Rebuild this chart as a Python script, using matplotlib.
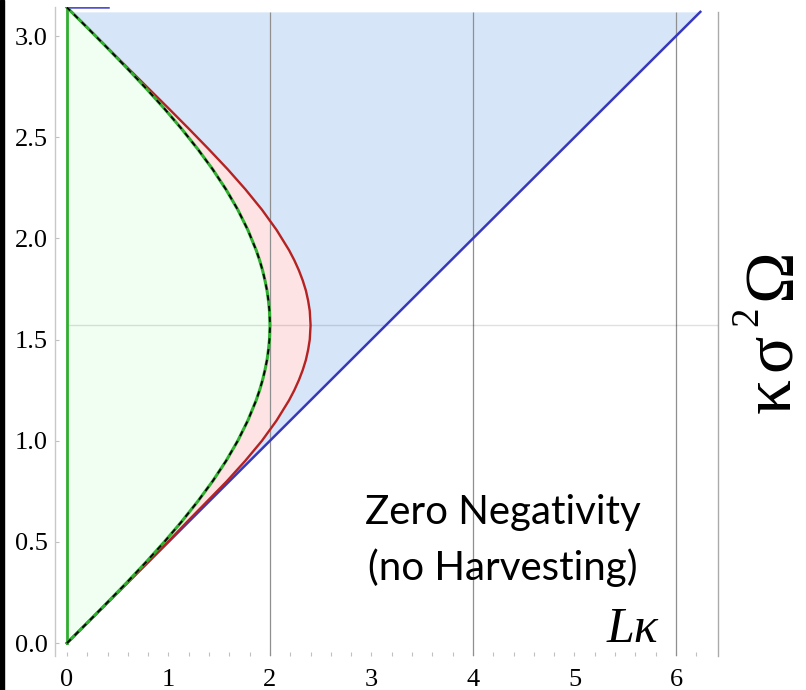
import matplotlib
matplotlib.use("Agg")
import matplotlib.pyplot as plt
from matplotlib.patches import Rectangle

# ---- data ----
omega = [0.0, 0.1, 0.2, 0.3, 0.4, 0.5, 0.6, 0.7, 0.8, 0.9, 1.0, 1.1, 1.2, 1.25, 1.3, 1.35, 1.4, 1.45, 1.5,
         1.5708,
         1.642, 1.692, 1.742, 1.792, 1.842, 1.892, 1.942, 2.042, 2.142, 2.242, 2.342, 2.442, 2.542,
         2.642, 2.742, 2.842, 2.942, 3.042, 3.1416]
green_L = [0.0, 0.200, 0.397, 0.591, 0.779, 0.959, 1.129, 1.288, 1.435, 1.567, 1.683, 1.782, 1.864, 1.898,
           1.927, 1.951, 1.971, 1.985, 1.995,
           2.0,
           1.995, 1.985, 1.971, 1.951, 1.927, 1.898, 1.864, 1.782, 1.683, 1.567, 1.435, 1.288, 1.129,
           0.959, 0.779, 0.591, 0.397, 0.200, 0.0]
red_L = [0.0, 0.200, 0.400, 0.600, 0.798, 0.995, 1.185, 1.380, 1.575, 1.755, 1.921, 2.065, 2.188, 2.240,
         2.285, 2.323, 2.354, 2.376, 2.392,
         2.400,
         2.392, 2.376, 2.354, 2.323, 2.285, 2.240, 2.188, 2.065, 1.921, 1.759, 1.583, 1.395, 1.201,
         1.003, 0.802, 0.601, 0.400, 0.200, 0.0]
bound_L = [0.0, 6.24]
bound_omega = [0.0, 3.12]
top_omega = 3.12
x_ticks = [0, 1, 2, 3, 4, 5, 6]
y_ticks = [0.0, 0.5, 1.0, 1.5, 2.0, 2.5, 3.0]
grid_x = [2, 4, 6]
grid_y = 1.5708

W, H = 806, 690
fig = plt.figure(figsize=(8.06, 6.9), dpi=100)
ax = fig.add_axes([55/W, 34/H, 663/W, 649/H])
ax.set_xlim(-0.118, 6.414)
ax.set_ylim(-0.064, 3.144)

# fills
ax.fill_between(bound_L, bound_omega, top_omega, color='#d7e5f9', lw=0, zorder=1)
ax.fill_betweenx(omega, 0, green_L, color='#f0fff1', lw=0, zorder=2)
ax.fill_betweenx(omega, green_L, red_L, color='#fde3e3', lw=0, zorder=2)

# grid
ax.vlines(grid_x, -0.064, top_omega, color='#8f8f8f', lw=0.9, zorder=3)
ax.hlines(grid_y, 0, 6.414, color='#000000', alpha=0.12, lw=1.0, zorder=3)

# lines
ax.plot(bound_L, bound_omega, color='#3838bd', lw=1.8, zorder=4)
ax.plot([0, 0.4], [3.1416, 3.1416], color='#5050d0', lw=1.8, zorder=4)
ax.plot([0, 0], [0, 3.1416], color='#2fae2f', lw=2.0, zorder=4)
ax.plot(red_L, omega, color='#b42222', lw=1.7, zorder=5)
ax.plot(green_L, omega, color='#2fae2f', lw=2.2, zorder=6)
ax.plot(green_L, omega, color='black', lw=1.3, dashes=(3, 3), zorder=7)

# spines & ticks
for s in ['top', 'bottom']:
    ax.spines[s].set_visible(False)
ax.spines['left'].set_color('#c8c8c8')
ax.spines['left'].set_linewidth(1.0)
ax.spines['right'].set_color('#aaaaaa')
ax.spines['right'].set_linewidth(1.0)
ax.spines['right'].set_bounds(-0.064, top_omega)

ax.set_xticks(x_ticks)
ax.set_xticks([i * 0.2 for i in range(32)], minor=True)
ax.set_yticks(y_ticks)
ax.set_xticklabels([str(v) for v in x_ticks])
ax.set_yticklabels([f"{v:.1f}" for v in y_ticks])
ax.tick_params(axis='x', which='both', direction='in', length=3, width=0.8, color='#c0c0c0',
               labelsize=19, pad=9)
ax.tick_params(axis='y', which='both', direction='in', length=3, width=0.8, color='#c0c0c0',
               labelsize=19, pad=5)
for lab in ax.get_xticklabels() + ax.get_yticklabels():
    lab.set_fontfamily('Liberation Serif')

# texts
ax.text(4.29, 0.59, 'Zero Negativity', family='Lato', fontsize=29, ha='center', va='baseline', zorder=8)
ax.text(4.29, 0.31, '(no Harvesting)', family='Lato', fontsize=29, ha='center', va='baseline', zorder=8)
ax.text(5.83, 0.005, 'Lκ', family='Liberation Serif', style='italic', fontsize=36,
        ha='right', va='baseline', zorder=8)

# right-hand label  κσ²Ω  (rotated, read bottom to top)
def rlabel(s, xb, ystart, size):
    fig.text(xb / W, 1 - ystart / H, s, fontsize=size, rotation=90, rotation_mode='anchor',
             ha='left', va='baseline', family='Liberation Serif')

rlabel('κ', 790, 413, 50)
rlabel('σ', 790, 371, 50)
rlabel('2', 757, 326, 28)
rlabel('Ω', 790, 300, 50)

fig.add_artist(Rectangle((0, 0), 4/W, 1, color='black', transform=fig.transFigure, zorder=10))

fig.savefig('out.png', dpi=100)
